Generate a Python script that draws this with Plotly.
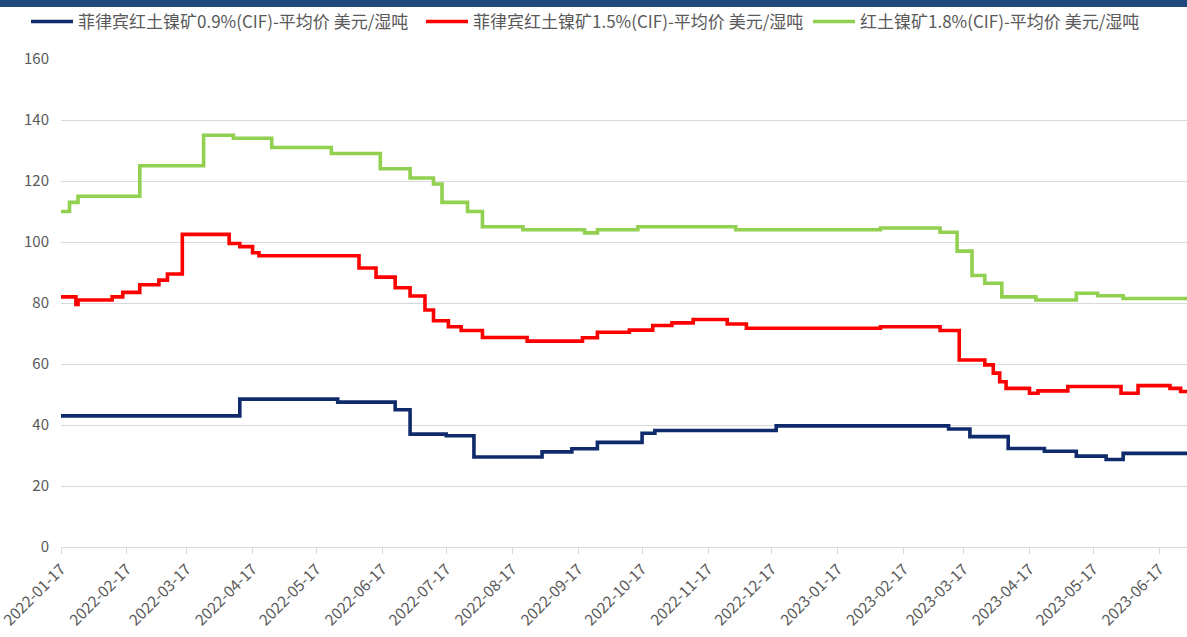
import plotly.graph_objects as go

# Weekly price changes (date of change, price in USD per wet tonne)
dates_09 = ["2022-01-17", "2022-04-11", "2022-05-27", "2022-06-23", "2022-06-30",
            "2022-07-17", "2022-07-30", "2022-08-31", "2022-09-14", "2022-09-26",
            "2022-10-17", "2022-10-23", "2022-12-19", "2023-03-10", "2023-03-20",
            "2023-04-07", "2023-04-24", "2023-05-09", "2023-05-23", "2023-05-31",
            "2023-07-01"]
price_09 = [43, 48.5, 47.5, 45, 37,
            36.5, 29.5, 31.2, 32.2, 34.3,
            37.3, 38.2, 39.7, 38.7, 36.2,
            32.3, 31.4, 29.8, 28.7, 30.7,
            30.7]

dates_15 = ["2022-01-17", "2022-01-24", "2022-01-25", "2022-02-10", "2022-02-15",
            "2022-02-23", "2022-03-04", "2022-03-08", "2022-03-15", "2022-04-06",
            "2022-04-11", "2022-04-17", "2022-04-20", "2022-06-06", "2022-06-14",
            "2022-06-23", "2022-06-30", "2022-07-07", "2022-07-11", "2022-07-18",
            "2022-07-24", "2022-08-03", "2022-08-24", "2022-09-19", "2022-09-26",
            "2022-10-11", "2022-10-22", "2022-10-31", "2022-11-10", "2022-11-26",
            "2022-12-05", "2023-02-06", "2023-03-06", "2023-03-15", "2023-03-27",
            "2023-03-31", "2023-04-03", "2023-04-06", "2023-04-17", "2023-04-21",
            "2023-05-05", "2023-05-30", "2023-06-07", "2023-06-22", "2023-06-27",
            "2023-07-01"]
price_15 = [82, 79.5, 81, 82, 83.5,
            86, 87.5, 89.5, 102.5, 99.5,
            98.5, 96.5, 95.5, 91.5, 88.5,
            85, 82.3, 77.7, 74.2, 72.2,
            71, 68.7, 67.5, 68.6, 70.4,
            71.1, 72.6, 73.5, 74.6, 73.1,
            71.7, 72.2, 71, 61.3, 59.7,
            57, 54.2, 52, 50.4, 51.2,
            52.6, 50.4, 52.9, 52, 51,
            51]

dates_18 = ["2022-01-17", "2022-01-21", "2022-01-25", "2022-02-23", "2022-03-25",
            "2022-04-08", "2022-04-26", "2022-05-24", "2022-06-16", "2022-06-30",
            "2022-07-11", "2022-07-15", "2022-07-27", "2022-08-03", "2022-08-22",
            "2022-09-20", "2022-09-26", "2022-10-15", "2022-11-30", "2023-02-06",
            "2023-03-06", "2023-03-14", "2023-03-21", "2023-03-27", "2023-04-04",
            "2023-04-20", "2023-05-09", "2023-05-19", "2023-05-31", "2023-07-01"]
price_18 = [110, 113, 115, 125, 135,
            134, 131, 129, 124, 121,
            119, 113, 110, 105, 104,
            103, 104, 105, 104, 104.6,
            103.2, 97, 89, 86.5, 82,
            81, 83.2, 82.4, 81.5, 81.5]

series_names = ["菲律宾红土镍矿0.9%(CIF)-平均价 美元/湿吨",
                "菲律宾红土镍矿1.5%(CIF)-平均价 美元/湿吨",
                "红土镍矿1.8%(CIF)-平均价 美元/湿吨"]
series_colors = ["#0F2B6B", "#FF0000", "#92D050"]

tick_dates = ["2022-01-17", "2022-02-17", "2022-03-17", "2022-04-17", "2022-05-17",
              "2022-06-17", "2022-07-17", "2022-08-17", "2022-09-17", "2022-10-17",
              "2022-11-17", "2022-12-17", "2023-01-17", "2023-02-17", "2023-03-17",
              "2023-04-17", "2023-05-17", "2023-06-17"]
tick_labels = list(tick_dates)

FONT = "Noto Sans CJK SC"
W, H = 1187, 637
ML, MR, MT, MB = 61, 0, 59, 90
PW, PH = W - ML - MR, H - MT - MB

# left edge (px) of each legend entry along the top row
legend_left = [26, 421, 808]
legend_ids = ["legend", "legend2", "legend3"]

fig = go.Figure()
for xs, ys, name, color, lg in zip([dates_09, dates_15, dates_18],
                                   [price_09, price_15, price_18],
                                   series_names, series_colors, legend_ids):
    fig.add_trace(go.Scatter(
        x=xs, y=ys, name=name, mode="lines", legend=lg,
        line=dict(color=color, width=3.6, shape="hv"),
    ))

legend_style = dict(
    orientation="h",
    xref="container", yref="container",
    y=1 - 4 / H, xanchor="left", yanchor="top",
    font=dict(family=FONT, size=17, color="#595959"),
    itemwidth=42,
    bgcolor="rgba(0,0,0,0)",
)
for lg, left in zip(legend_ids, legend_left):
    fig.update_layout({lg: dict(legend_style, x=left / W)})

fig.update_layout(
    width=W, height=H,
    margin=dict(l=ML, r=MR, t=MT, b=MB, autoexpand=False),
    paper_bgcolor="white", plot_bgcolor="white",
    font=dict(family=FONT, color="#595959"),
    showlegend=True,
    xaxis=dict(
        type="date",
        range=["2022-01-17", "2023-06-30"],
        tickvals=tick_dates, ticktext=tick_labels,
        tickangle=-45,
        ticks="outside", ticklen=6, tickcolor="#D9D9D9",
        showline=True, linecolor="#D9D9D9", linewidth=1,
        showgrid=False, zeroline=False,
        ticklabeloverflow="allow",
        tickfont=dict(family=FONT, size=15.5, color="#595959"),
    ),
    yaxis=dict(
        range=[0, 160], dtick=20,
        showgrid=True, gridcolor="#D9D9D9", gridwidth=1,
        zeroline=False, showline=False,
        ticks="", ticklabelstandoff=11,
        tickfont=dict(family=FONT, size=15, color="#595959"),
    ),
    # dark banner along the top edge
    shapes=[dict(type="rect", xref="paper", yref="paper",
                 x0=-ML / PW, x1=1.0,
                 y0=1 + (MT - 7) / PH, y1=1 + MT / PH,
                 fillcolor="#1F497D", line=dict(width=0), layer="above")],
)

fig.write_html("out.html")
